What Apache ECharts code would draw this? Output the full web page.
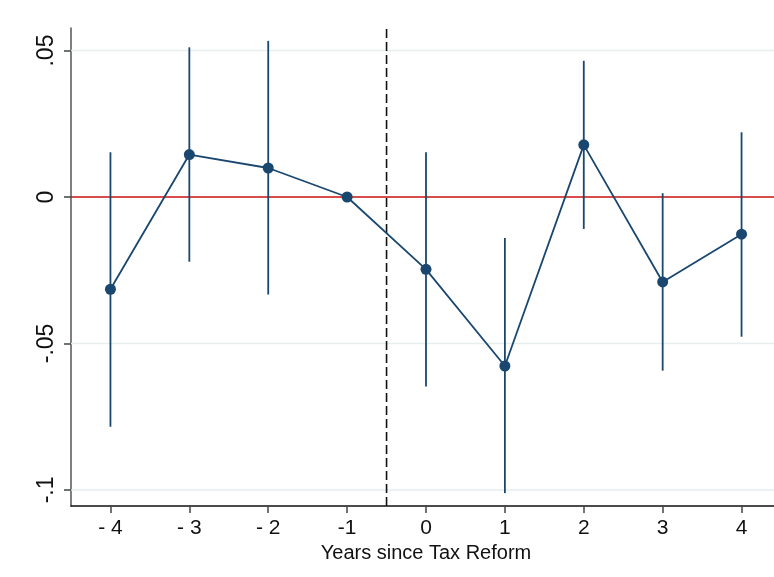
<!DOCTYPE html>
<html>
<head>
<meta charset="utf-8">
<script src="https://cdn.jsdelivr.net/npm/echarts@6/dist/echarts.min.js"></script>
<style>
html,body{margin:0;padding:0;background:#fff;}
#chart{width:774px;height:577px;}
</style>
</head>
<body>
<div id="chart"></div>
<script>
// ---- data ----
var years = [-4, -3, -2, -1, 0, 1, 2, 3, 4];
var xLabels = ['- 4', '- 3', '- 2', '-1', '0', '1', '2', '3', '4'];
var coef   = [-0.0315, 0.0145, 0.0099, 0, -0.0247, -0.0577, 0.0178, -0.0290, -0.0127];
var ciLow  = [-0.0784, -0.0221, -0.0333, 0, -0.0647, -0.1011, -0.0109, -0.0593, -0.0477];
var ciHigh = [0.0153, 0.0511, 0.0533, 0, 0.0153, -0.0140, 0.0465, 0.0013, 0.0221];
var yTicks = [-0.1, -0.05, 0, 0.05];
var yTickLabels = ['-.1', '-.05', '0', '.05'];
var gridValues = [-0.1, -0.05, 0.05];
var zeroLine = 0;
var reformLine = -0.5;
var xMin = -4.5, xMax = 4.5, yMin = -0.1055, yMax = 0.0577;
var xTitle = 'Years since Tax Reform';

var navy = '#1a476f';
var font = "'Liberation Sans', Arial, Helvetica, sans-serif";

var pointData = years.map(function (y, i) { return [y, coef[i]]; });
var barData = years.map(function (y, i) { return [y, ciLow[i], ciHigh[i]]; });

var chart = echarts.init(document.getElementById('chart'), null, {renderer: 'canvas'});
chart.setOption({
  backgroundColor: '#ffffff',
  animation: false,
  grid: {left: 71, top: 28, width: 710, height: 478, containLabel: false, outerBoundsMode: 'none'},
  xAxis: {
    type: 'value',
    min: xMin, max: xMax,
    name: xTitle,
    nameLocation: 'middle',
    nameGap: 36,
    nameTextStyle: {fontFamily: font, fontSize: 20, color: '#111'},
    axisLine: {show: true, onZero: false, lineStyle: {color: '#111', width: 1.5}},
    axisTick: {show: true, length: 7, customValues: years, lineStyle: {color: '#444', width: 1.5}},
    axisLabel: {
      show: true, margin: 12, customValues: years,
      fontFamily: font, fontSize: 21, color: '#111',
      formatter: function (v) { var i = years.indexOf(Math.round(v)); return i >= 0 ? xLabels[i] : ''; }
    },
    splitLine: {show: false}
  },
  yAxis: {
    type: 'value',
    min: yMin, max: yMax,
    axisLine: {show: true, onZero: false, lineStyle: {color: '#555', width: 1.5}},
    axisTick: {show: true, length: 7, customValues: yTicks, lineStyle: {color: '#444', width: 1.5}},
    axisLabel: {
      show: true, rotate: 90, margin: 13, customValues: yTicks,
      fontFamily: font, fontSize: 23, color: '#111',
      formatter: function (v) {
        for (var i = 0; i < yTicks.length; i++) if (Math.abs(yTicks[i] - v) < 1e-9) return yTickLabels[i];
        return '';
      }
    },
    splitLine: {show: false}
  },
  series: [
    {
      // light gridlines
      type: 'custom', z: 1, silent: true,
      data: gridValues.map(function (v) { return [xMin, xMax, v]; }),
      renderItem: function (params, api) {
        var a = api.coord([api.value(0), api.value(2)]);
        var b = api.coord([api.value(1), api.value(2)]);
        return {type: 'line', shape: {x1: a[0], y1: a[1], x2: b[0], y2: b[1]},
                style: {stroke: '#e6eef0', lineWidth: 1.5}};
      }
    },
    {
      // zero reference line (red)
      type: 'line', z: 2, silent: true, symbol: 'none',
      data: [[xMin, zeroLine], [xMax, zeroLine]],
      lineStyle: {color: '#cc1010', width: 1.3}
    },
    {
      // reform marker line (dashed)
      type: 'line', z: 2, silent: true, symbol: 'none',
      data: [[reformLine, yMin], [reformLine, yMax]],
      lineStyle: {color: '#111111', width: 1.6, type: [9, 4]}
    },
    {
      type: 'custom', z: 3, silent: true,
      data: barData,
      renderItem: function (params, api) {
        var lo = api.coord([api.value(0), api.value(1)]);
        var hi = api.coord([api.value(0), api.value(2)]);
        return {
          type: 'line',
          shape: {x1: lo[0], y1: lo[1], x2: hi[0], y2: hi[1]},
          style: {stroke: navy, lineWidth: 1.8}
        };
      }
    },
    {
      type: 'line', z: 4, data: pointData,
      symbol: 'circle', symbolSize: 11,
      itemStyle: {color: navy},
      lineStyle: {color: navy, width: 1.8}
    }
  ]
});
</script>
</body>
</html>
